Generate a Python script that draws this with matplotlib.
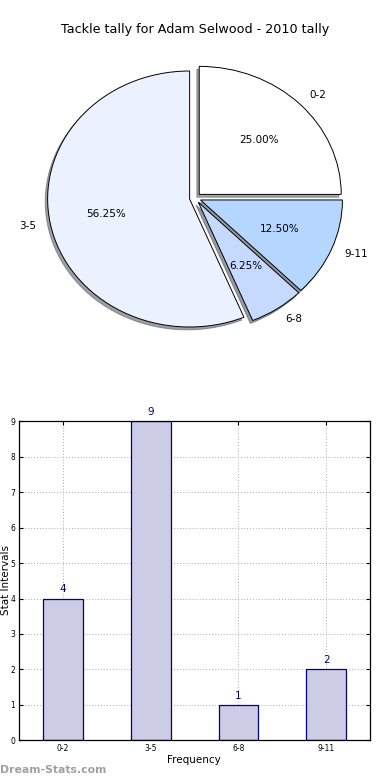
import matplotlib
matplotlib.use("Agg")
import matplotlib.pyplot as plt

# data
categories = ["0-2", "3-5", "6-8", "9-11"]
counts = [4, 9, 1, 2]
pie_colors = ["#FFFFFF", "#EBF1FF", "#C6D9FF", "#B5D6FF"]
title = "Tackle tally for Adam Selwood - 2010 tally"

W, H = 390, 780
fig = plt.figure(figsize=(W / 100, H / 100), dpi=100)
fig.patch.set_facecolor("white")


def fx(px):
    return px / W


def fy(py):
    return 1 - py / H


# ---- pie (old style, not equal aspect) ----
rx, ry = 142.0, 128.0
cx, cy = 195.2, 198.0
top, bot = 50, 350
ax1 = fig.add_axes([0, fy(bot), 1, (bot - top) / H])
ax1.pie(counts, labels=categories, colors=pie_colors, autopct="%.2f%%",
        explode=[0.04] * len(counts),
        shadow=dict(ox=-0.012, oy=-0.016, shade=0.6, alpha=0.6),
        startangle=0,
        wedgeprops=dict(edgecolor="black", linewidth=0.7),
        textprops=dict(fontsize=7.5))
ax1.set_aspect("auto")
ax1.set_xlim(-cx / rx, (W - cx) / rx)
ax1.set_ylim(-(bot - cy) / ry, (cy - top) / ry)
ax1.axis("off")

fig.text(0.5, fy(30), title, ha="center", va="center", fontsize=9.2)

# ---- bar chart ----
left, right, btop, bbot = 19.3, 370.0, 421.3, 740.3
ax2 = fig.add_axes([fx(left), fy(bbot), (right - left) / W, (bbot - btop) / H])
pos = list(range(len(categories)))
bars = ax2.bar(pos, counts, width=0.45, color="#CCCCE5", edgecolor="#000080",
               linewidth=0.9, zorder=2)
for b, v in zip(bars, counts):
    ax2.text(b.get_x() + b.get_width() / 2, v + 0.12, str(v), ha="center",
             va="bottom", fontsize=7.5, color="#000080")
ax2.set_xlim(-0.5, 3.5)
ax2.set_ylim(0, 9)
ax2.set_xticks(pos)
ax2.set_xticklabels(categories)
ax2.set_yticks(range(0, 10))
ax2.tick_params(labelsize=5.5, direction="in", top=True, right=True,
                length=3, pad=3)
ax2.grid(True, linestyle=(0, (1, 2)), color="#aaaaaa", linewidth=0.7, zorder=0)
ax2.set_axisbelow(True)
for s in ax2.spines.values():
    s.set_linewidth(0.9)

fig.text(fx(194), fy(760), "Frequency", ha="center", va="center", fontsize=7.5)
fig.text(fx(6), fy(580), "Stat Intervals", ha="center", va="center",
         rotation=90, fontsize=7.5)
fig.text(fx(0), fy(770), "Dream-Stats.com", ha="left", va="center",
         fontsize=7.8, color="#a0a0a0", fontweight="semibold")

fig.savefig("out.png", dpi=100)
